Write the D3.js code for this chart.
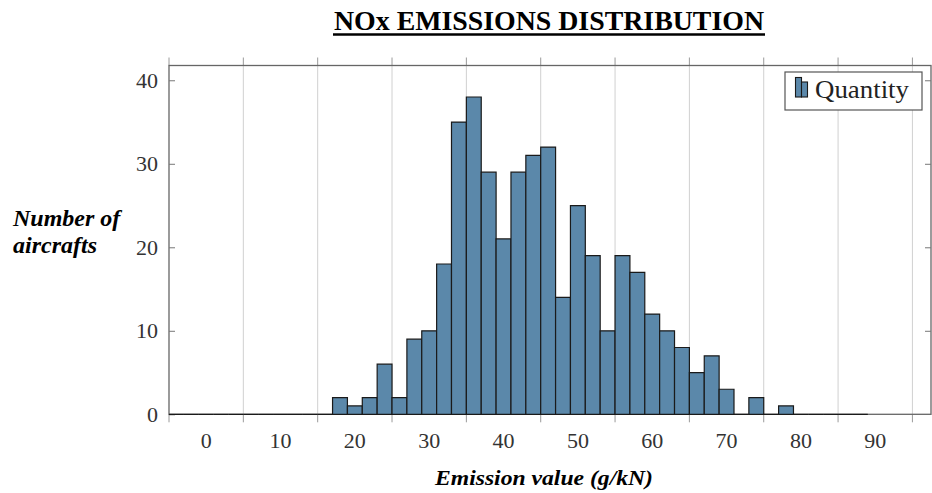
<!DOCTYPE html>
<html>
<head>
<meta charset="utf-8">
<script src="https://cdn.jsdelivr.net/npm/d3@7/dist/d3.min.js"></script>
<style>
  html, body { margin: 0; padding: 0; background: #fff; }
  svg { display: block; }
</style>
</head>
<body>
<div id="chart"></div>
<script>
// NOx emissions histogram (pgfplots "ybar interval" look)

// bin start values (width 2 g/kN)
const binStart = [0, 2, 4, 6, 8, 10, 12, 14, 16, 18, 20, 22, 24, 26, 28, 30, 32, 34, 36, 38,
  40, 42, 44, 46, 48, 50, 52, 54, 56, 58, 60, 62, 64, 66, 68, 70, 72, 74, 76, 78,
  80, 82, 84, 86, 88, 90, 92]
const binWidth = 2
// number of aircrafts in each bin
const quantity = [0, 0, 0, 0, 0, 0, 0, 0, 0, 0, 0, 2, 1, 2, 6, 2, 9, 10, 18, 35,
  38, 29, 21, 29, 31, 32, 14, 25, 19, 10, 19, 17, 12, 10, 8, 5, 7, 3, 0, 2,
  0, 1, 0, 0, 0, 0, 0]

const xTicks = [0, 10, 20, 30, 40, 50, 60, 70, 80, 90, 100]
const xTickLabels = ["0", "10", "20", "30", "40", "50", "60", "70", "80", "90"]
const yTicks = [0, 10, 20, 30, 40]

const title = "NOx EMISSIONS DISTRIBUTION"
const xTitle = "Emission value (g/kN)"
const yTitle = ["Number of", "aircrafts"]
const legendLabel = "Quantity"

const W = 932, H = 493
const plot = { left: 169, right: 931, top: 65.5, bottom: 414.3 }

const svg = d3.select("#chart")
  .append("svg")
  .attr("width", W)
  .attr("height", H)

const x = d3.scaleLinear()
  .domain([0, 102.5])
  .range([plot.left, plot.right])

const y = d3.scaleLinear()
  .domain([0, 41.77])
  .range([plot.bottom, plot.top])

const serif = "'Liberation Serif', 'DejaVu Serif', serif"

// vertical grid lines
svg.append("g")
  .selectAll("line")
  .data(xTicks.filter(d => d > 0))
  .enter()
  .append("line")
  .attr("x1", d => x(d)).attr("x2", d => x(d))
  .attr("y1", plot.top).attr("y2", plot.bottom)
  .attr("stroke", "#d0d0d0")
  .attr("stroke-width", 1)

// x ticks outside the frame (top and bottom)
const xt = svg.append("g").attr("stroke", "#9a9a9a").attr("stroke-width", 1)
xTicks.forEach(d => {
  xt.append("line")
    .attr("x1", x(d)).attr("x2", x(d))
    .attr("y1", plot.top - 8).attr("y2", plot.top)
  xt.append("line")
    .attr("x1", x(d)).attr("x2", x(d))
    .attr("y1", plot.bottom).attr("y2", plot.bottom + 8)
})

// frame
svg.append("rect")
  .attr("x", plot.left)
  .attr("y", plot.top)
  .attr("width", plot.right - plot.left)
  .attr("height", plot.bottom - plot.top)
  .attr("fill", "none")
  .attr("stroke", "#666")
  .attr("stroke-width", 1.3)

// y ticks (inside, both sides)
const yAxis = d3.axisLeft(y).tickValues(yTicks).tickSize(-6).tickFormat(d => d).tickPadding(16)
const yg = svg.append("g")
  .attr("transform", `translate(${plot.left},0)`)
  .call(yAxis)
yg.select(".domain").remove()
yg.selectAll(".tick line").attr("stroke", "#777")
yg.selectAll(".tick text")
  .attr("font-family", serif)
  .attr("font-size", 22)
  .attr("fill", "#333")
  .attr("x", -11)

const yAxisR = d3.axisRight(y).tickValues(yTicks.filter(d => d > 0)).tickSize(-6).tickFormat("")
const ygr = svg.append("g")
  .attr("transform", `translate(${plot.right},0)`)
  .call(yAxisR)
ygr.select(".domain").remove()
ygr.selectAll(".tick line").attr("stroke", "#777")

// bars (paths so that empty bins still draw a line on the baseline)
svg.append("g")
  .selectAll("path")
  .data(binStart.map((s, i) => ({ s, v: quantity[i] })))
  .enter()
  .append("path")
  .attr("d", d => {
    const x0 = x(d.s), x1 = x(d.s + binWidth)
    const y0 = y(0), y1 = y(d.v)
    return `M${x0},${y0}V${y1}H${x1}V${y0}Z`
  })
  .attr("fill", "#5b88aa")
  .attr("stroke", "#1a1a1a")
  .attr("stroke-width", 1.2)
  .attr("stroke-linejoin", "miter")

// x tick labels (centred in each interval)
svg.append("g")
  .selectAll("text")
  .data(xTickLabels)
  .enter()
  .append("text")
  .attr("x", (d, i) => (x(xTicks[i]) + x(xTicks[i + 1])) / 2)
  .attr("y", 448)
  .attr("text-anchor", "middle")
  .attr("font-family", serif)
  .attr("font-size", 22)
  .attr("fill", "#333")
  .text(d => d)

// legend
const lg = svg.append("g")
lg.append("rect")
  .attr("x", 785).attr("y", 72)
  .attr("width", 137).attr("height", 38)
  .attr("fill", "#fff")
  .attr("stroke", "#555")
  .attr("stroke-width", 1.2)
lg.append("rect")
  .attr("x", 795.5).attr("y", 77.5)
  .attr("width", 6).attr("height", 19.5)
  .attr("fill", "#5b88aa").attr("stroke", "#1a1a1a").attr("stroke-width", 1.1)
lg.append("rect")
  .attr("x", 801.5).attr("y", 82)
  .attr("width", 6).attr("height", 15)
  .attr("fill", "#5b88aa").attr("stroke", "#1a1a1a").attr("stroke-width", 1.1)
lg.append("text")
  .attr("x", 815)
  .attr("y", 98)
  .attr("font-family", serif)
  .attr("font-size", 26)
  .attr("textLength", 94)
  .attr("lengthAdjust", "spacingAndGlyphs")
  .attr("fill", "#222")
  .text(legendLabel)

// title (bold, underlined)
svg.append("text")
  .attr("x", 549)
  .attr("y", 30)
  .attr("text-anchor", "middle")
  .attr("font-family", serif)
  .attr("font-weight", "bold")
  .attr("font-size", 27)
  .attr("textLength", 430)
  .attr("lengthAdjust", "spacingAndGlyphs")
  .attr("fill", "#000")
  .text(title)
svg.append("line")
  .attr("x1", 333).attr("x2", 765)
  .attr("y1", 34.5).attr("y2", 34.5)
  .attr("stroke", "#000")
  .attr("stroke-width", 2.5)

// axis titles
svg.append("text")
  .attr("x", 544)
  .attr("y", 485)
  .attr("text-anchor", "middle")
  .attr("font-family", serif)
  .attr("font-weight", "bold")
  .attr("font-style", "italic")
  .attr("font-size", 22)
  .attr("textLength", 218)
  .attr("lengthAdjust", "spacingAndGlyphs")
  .attr("fill", "#000")
  .text(xTitle)

svg.append("g")
  .selectAll("text")
  .data(yTitle)
  .enter()
  .append("text")
  .attr("x", 13)
  .attr("y", (d, i) => 226 + i * 27)
  .attr("font-family", serif)
  .attr("font-weight", "bold")
  .attr("font-style", "italic")
  .attr("font-size", 24)
  .attr("fill", "#000")
  .text(d => d)
</script>
</body>
</html>
